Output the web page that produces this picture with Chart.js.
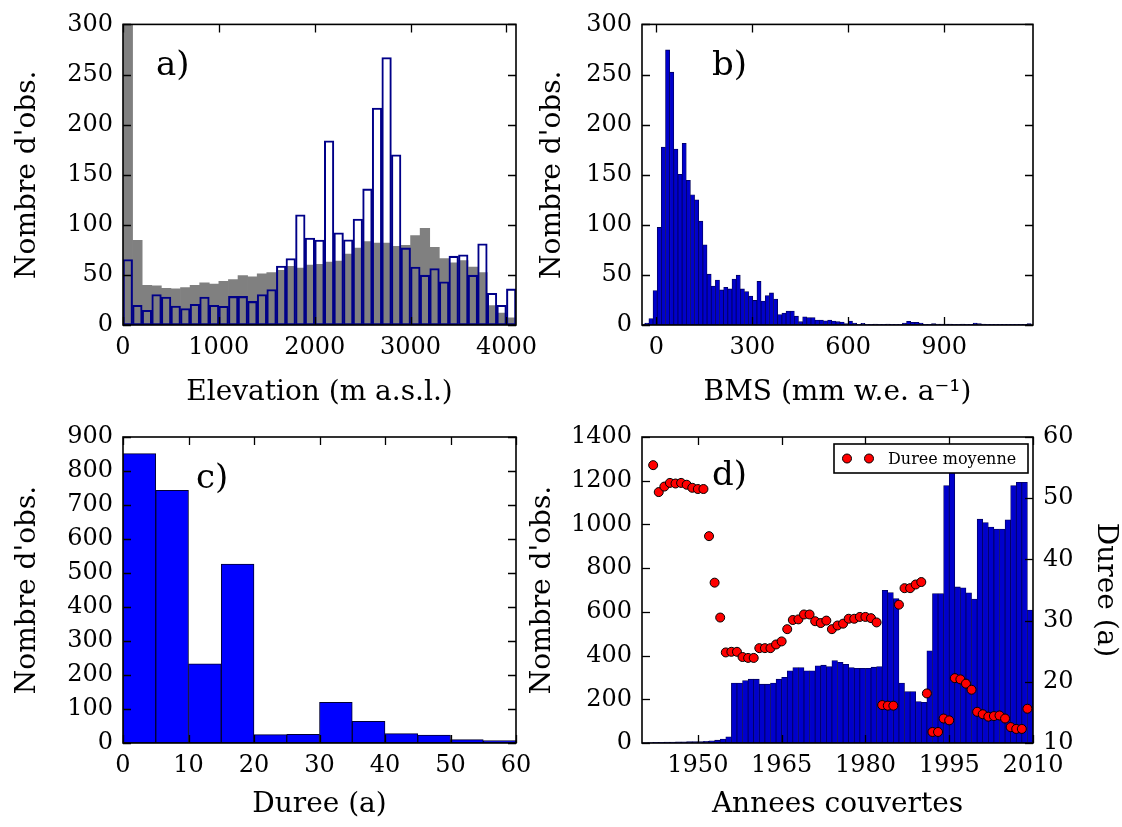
<!DOCTYPE html>
<html>
<head>
<meta charset="utf-8">
<script src="https://cdn.jsdelivr.net/npm/chart.js@4.4.1/dist/chart.umd.min.js"></script>
<style>
  html, body { margin: 0; padding: 0; background: #fff; }
  #wrap { position: relative; width: 1122px; height: 827px; }
  #wrap canvas { position: absolute; left: 0; top: 0; }
</style>
</head>
<body>
<div id="wrap">
  <canvas id="chartA" width="1122" height="827"></canvas>
  <canvas id="chartB" width="1122" height="827"></canvas>
  <canvas id="chartC" width="1122" height="827"></canvas>
  <canvas id="chartD" width="1122" height="827"></canvas>
</div>
<script>
// ---------- a) elevation, 100 m bins ----------
const elevBinCentre = [50, 150, 250, 350, 450, 550, 650, 750, 850, 950,
  1050, 1150, 1250, 1350, 1450, 1550, 1650, 1750, 1850, 1950,
  2050, 2150, 2250, 2350, 2450, 2550, 2650, 2750, 2850, 2950,
  3050, 3150, 3250, 3350, 3450, 3550, 3650, 3750, 3850, 3950, 4050];
const elevAll = [340, 84.5, 39.6, 39, 36.7, 36, 37.3, 39.6, 42.2, 40.9,
  43.5, 45.4, 49.3, 48, 51, 52.3, 54.6, 58.5, 56.9, 59.8,
  60.5, 62.7, 63.7, 70.9, 76.8, 83.3, 81.7, 81.7, 78.4, 79.4,
  89.2, 96.4, 77.5, 66.3, 62, 64.4, 57.8, 52.3, 19.3, 12, 7.2];
const elevSample = [65.4, 19.6, 14.7, 30.4, 27.8, 19, 16.4, 20.6, 27.8, 19.6,
  18.6, 28.5, 28.5, 23.5, 30.4, 35.3, 58.9, 66.4, 110, 86.7,
  84.7, 183.8, 92, 85, 105.7, 135.8, 216.6, 267, 169.8, 76.9,
  57.9, 49.7, 56.3, 43.2, 68.7, 70, 49.7, 81, 31.7, 19.6, 36];
const elevTicks = [0, 1000, 2000, 3000, 4000];
const countTicksAB = [0, 50, 100, 150, 200, 250, 300];

// ---------- b) BMS, 13 mm bins ----------
const bmsBinCentre = [-43, -30, -17, -4, 9, 22, 35, 48, 61, 74,
  87, 100, 113, 126, 139, 152, 165, 178, 191, 204,
  217, 230, 243, 256, 269, 282, 295, 308, 321, 334,
  347, 360, 373, 386, 399, 412, 425, 438, 451, 464,
  477, 490, 503, 516, 529, 542, 555, 568, 581, 594,
  607, 620, 633, 646, 659, 672, 685, 698, 711, 724,
  737, 750, 763, 776, 789, 802, 815, 828, 841, 854,
  867, 880, 893, 906, 919, 932, 945, 958, 971, 984,
  997, 1010, 1023, 1036, 1049, 1062, 1075, 1088, 1101, 1114,
  1127, 1140, 1153, 1166];
const bmsCount = [1, 2, 6.5, 34.3, 97.4, 177.5, 274.5, 252.3, 175.5, 150.3,
  181.4, 144.4, 130, 125, 103.6, 80, 50.7, 38.9, 44.8, 35,
  37.6, 36, 45.8, 49.7, 36, 33.3, 28.8, 24.5, 43.5, 23.9,
  29.4, 32, 25.8, 10.5, 12, 14, 14, 8.8, 3.3, 8.2,
  7.5, 7.5, 4.9, 4.9, 4.2, 4.9, 3.9, 3.3, 2.9, 1.3,
  3.9, 2, 0.7, 1.6, 0.7, 0.6, 1, 0.7, 0.6, 1,
  0.6, 0.6, 0.7, 2, 3.6, 2.6, 2.6, 2, 0.7, 0.7,
  1.3, 1, 1, 1, 1, 0.6, 0.6, 1, 0.7, 0.6,
  2, 1.3, 1, 0.6, 0.6, 0.6, 0.6, 0.6, 0.6, 0.6,
  0.6, 0.6, 0.6, 1.3];
const bmsTicks = [0, 300, 600, 900];

// ---------- c) duration, 5 a bins ----------
const dureeBinCentre = [2.5, 7.5, 12.5, 17.5, 22.5, 27.5, 32.5, 37.5, 42.5, 47.5, 52.5, 57.5];
const dureeCount = [851, 743, 233, 526, 24.5, 25.5, 119.6, 63.7, 27.5, 23.5, 9.8, 6.9];
const dureeTicks = [0, 10, 20, 30, 40, 50, 60];
const countTicksC = [0, 100, 200, 300, 400, 500, 600, 700, 800, 900];

// ---------- d) years covered ----------
const barYears = [1940, 1941, 1942, 1943, 1944, 1945, 1946, 1947, 1948, 1949,
  1950, 1951, 1952, 1953, 1954, 1955, 1956, 1957, 1958, 1959,
  1960, 1961, 1962, 1963, 1964, 1965, 1966, 1967, 1968, 1969,
  1970, 1971, 1972, 1973, 1974, 1975, 1976, 1977, 1978, 1979,
  1980, 1981, 1982, 1983, 1984, 1985, 1986, 1987, 1988, 1989,
  1990, 1991, 1992, 1993, 1994, 1995, 1996, 1997, 1998, 1999,
  2000, 2001, 2002, 2003, 2004, 2005, 2006, 2007, 2008, 2009];
const obsPerYear = [1, 2, 3, 3, 4, 4, 5, 5, 6, 6,
  7, 8, 10, 13, 18, 28, 274, 274, 286, 292,
  292, 269, 269, 274, 292, 301, 330, 345, 345, 330,
  330, 353, 356, 350, 377, 369, 360, 345, 342, 342,
  342, 347, 350, 699, 688, 661, 274, 235, 235, 190,
  186, 422, 684, 684, 1178, 1300, 714, 710, 687, 659,
  1024, 1009, 988, 979, 979, 1021, 1178, 1193, 1193, 608];
const meanYears = [1942, 1943, 1944, 1945, 1946, 1947, 1948, 1949, 1950, 1951,
  1952, 1953, 1954, 1955, 1956, 1957, 1958, 1959, 1960, 1961,
  1962, 1963, 1964, 1965, 1966, 1967, 1968, 1969, 1970, 1971,
  1972, 1973, 1974, 1975, 1976, 1977, 1978, 1979, 1980, 1981,
  1982, 1983, 1984, 1985, 1986, 1987, 1988, 1989, 1990, 1991,
  1992, 1993, 1994, 1995, 1996, 1997, 1998, 1999, 2000, 2001,
  2002, 2003, 2004, 2005, 2006, 2007, 2008, 2009];
const meanDuree = [55.4, 51.0, 51.9, 52.5, 52.4, 52.5, 52.2, 51.7, 51.5, 51.5,
  43.8, 36.2, 30.5, 24.8, 24.9, 24.9, 24.05, 23.9, 23.9, 25.5,
  25.5, 25.5, 26.1, 26.6, 28.6, 30.1, 30.2, 31.0, 31.0, 29.9,
  29.6, 30.0, 28.6, 29.2, 29.5, 30.3, 30.3, 30.6, 30.6, 30.4,
  29.7, 16.2, 16.1, 16.1, 32.6, 35.3, 35.3, 35.9, 36.3, 18.1,
  11.8, 11.8, 14.0, 13.7, 20.6, 20.4, 19.7, 18.7, 15.1, 14.7,
  14.3, 14.4, 14.5, 14.0, 12.6, 12.3, 12.3, 15.6];
const yearTicks = [1950, 1965, 1980, 1995, 2010];
const countTicksD = [0, 200, 400, 600, 800, 1000, 1200, 1400];
const dureeTicksD = [10, 20, 30, 40, 50, 60];

// ---------- shared styling ----------
const FONT = "'DejaVu Serif', serif";
const TICK_FONT = { family: FONT, size: 24 };
const LABEL_FONT = { family: FONT, size: 28 };

// inward ticks on the requested sides, full frame, panel letter, optional legend
const frameTicks = {
  id: 'frameTicks',
  afterDraw(chart, args, opts) {
    const { ctx, chartArea: a } = chart;
    const len = 8;
    ctx.save();
    ctx.strokeStyle = '#000';
    ctx.lineWidth = 1.3;
    for (const id in opts.sides) {
      const s = chart.scales[id];
      const sides = opts.sides[id];
      s.ticks.forEach(t => {
        const p = Math.round(s.getPixelForValue(t.value)) + 0.5;
        ctx.beginPath();
        if (sides.includes('bottom')) { ctx.moveTo(p, a.bottom); ctx.lineTo(p, a.bottom - len); }
        if (sides.includes('top')) { ctx.moveTo(p, a.top); ctx.lineTo(p, a.top + len); }
        if (sides.includes('left')) { ctx.moveTo(a.left, p); ctx.lineTo(a.left + len, p); }
        if (sides.includes('right')) { ctx.moveTo(a.right, p); ctx.lineTo(a.right - len, p); }
        ctx.stroke();
      });
    }
    ctx.lineWidth = 1.6;
    ctx.strokeRect(a.left, a.top, a.right - a.left, a.bottom - a.top);

    ctx.fillStyle = '#000';
    ctx.font = '34px ' + FONT;
    ctx.textBaseline = 'alphabetic';
    ctx.fillText(opts.letter, a.left + opts.lx, a.top + opts.ly);

    if (opts.legend) {
      const lg = opts.legend;
      const w = 194, h = 29;
      const x0 = a.right - w - 5, y0 = a.top + 7;
      ctx.fillStyle = '#fff';
      ctx.fillRect(x0, y0, w, h);
      ctx.lineWidth = 1.6;
      ctx.strokeRect(x0, y0, w, h);
      [13, 35].forEach(dx => {
        ctx.beginPath();
        ctx.arc(x0 + dx, y0 + h / 2, 4.5, 0, Math.PI * 2);
        ctx.fillStyle = lg.color;
        ctx.fill();
        ctx.lineWidth = 1;
        ctx.stroke();
      });
      ctx.fillStyle = '#000';
      ctx.font = '16px ' + FONT;
      ctx.textBaseline = 'middle';
      ctx.fillText(lg.text, x0 + 54, y0 + h / 2 + 1);
    }
    ctx.restore();
  }
};
Chart.register(frameTicks);

function axis(opt) {
  const horiz = opt.position === 'bottom';
  return {
    type: 'linear',
    position: opt.position,
    min: opt.min,
    max: opt.max,
    offset: false,
    grid: { display: false, drawTicks: false },
    border: { display: false },
    ticks: {
      font: TICK_FONT, color: '#000', padding: opt.tickPad,
      autoSkip: false, maxRotation: 0, minRotation: 0,
      callback: v => String(v)
    },
    afterBuildTicks: s => { s.ticks = opt.ticks.map(v => ({ value: v })); },
    afterFit: s => { if (horiz) s.height = opt.size; else s.width = opt.size; },
    title: {
      display: true, text: opt.title, font: LABEL_FONT, color: '#000',
      padding: horiz ? { top: 0, bottom: opt.titlePad } : { top: opt.titlePad, bottom: 0 }
    }
  };
}

function baseOptions(pad, scales, plug) {
  return {
    responsive: false,
    animation: false,
    devicePixelRatio: 1,
    layout: { padding: pad },
    plugins: { legend: { display: false }, tooltip: { enabled: false }, frameTicks: plug },
    scales: scales
  };
}

const histBar = { barPercentage: 1, categoryPercentage: 1, grouped: false, borderSkipped: false };

// ---------- a) ----------
new Chart(document.getElementById('chartA'), {
  type: 'bar',
  data: {
    datasets: [
      Object.assign({
        data: elevBinCentre.map((x, i) => ({ x: x, y: elevSample[i] })),
        backgroundColor: 'rgba(0,0,0,0)', borderColor: '#000088', borderWidth: 1.4, order: 0
      }, histBar),
      Object.assign({
        data: elevBinCentre.map((x, i) => ({ x: x, y: elevAll[i] })),
        backgroundColor: '#808080', borderWidth: 0, order: 1
      }, histBar)
    ]
  },
  options: baseOptions({ left: 0, right: 1122 - 516, top: 19, bottom: 827 - 325 - 88 }, {
    x: axis({ position: 'bottom', min: 0, max: 4100, ticks: elevTicks, size: 88, tickPad: 8, titlePad: 3, title: 'Elevation (m a.s.l.)' }),
    y: axis({ position: 'left', min: 0, max: 300, ticks: countTicksAB, size: 123, tickPad: 10, titlePad: 11, title: "Nombre d'obs." })
  }, { sides: { x: ['bottom', 'top'], y: ['left', 'right'] }, letter: 'a)', lx: 33, ly: 51 })
});

// ---------- b) ----------
new Chart(document.getElementById('chartB'), {
  type: 'bar',
  data: {
    datasets: [Object.assign({
      data: bmsBinCentre.map((x, i) => ({ x: x, y: bmsCount[i] })),
      backgroundColor: '#0000cc', borderColor: '#00005a', borderWidth: 0.8
    }, histBar)]
  },
  options: baseOptions({ left: 520, right: 1122 - 1033, top: 19, bottom: 827 - 325 - 88 }, {
    x: axis({ position: 'bottom', min: -45, max: 1178, ticks: bmsTicks, size: 88, tickPad: 8, titlePad: 3, title: 'BMS (mm w.e. a\u207B\u00B9)' }),
    y: axis({ position: 'left', min: 0, max: 300, ticks: countTicksAB, size: 122, tickPad: 10, titlePad: 16, title: "Nombre d'obs." })
  }, { sides: { x: ['bottom', 'top'], y: ['left', 'right'] }, letter: 'b)', lx: 70, ly: 51 })
});

// ---------- c) ----------
new Chart(document.getElementById('chartC'), {
  type: 'bar',
  data: {
    datasets: [Object.assign({
      data: dureeBinCentre.map((x, i) => ({ x: x, y: dureeCount[i] })),
      backgroundColor: '#0000ff', borderColor: '#000030', borderWidth: 1
    }, histBar)]
  },
  options: baseOptions({ left: 0, right: 1122 - 516, top: 437, bottom: 0 }, {
    x: axis({ position: 'bottom', min: 0, max: 60, ticks: dureeTicks, size: 84, tickPad: 8, titlePad: 5, title: 'Duree (a)' }),
    y: axis({ position: 'left', min: 0, max: 900, ticks: countTicksC, size: 123, tickPad: 10, titlePad: 11, title: "Nombre d'obs." })
  }, { sides: { x: ['bottom', 'top'], y: ['left', 'right'] }, letter: 'c)', lx: 73, ly: 51 })
});

// ---------- d) ----------
new Chart(document.getElementById('chartD'), {
  type: 'bar',
  data: {
    datasets: [
      {
        type: 'scatter',
        data: meanYears.map((x, i) => ({ x: x, y: meanDuree[i] })),
        yAxisID: 'y2', order: 0,
        pointRadius: 4.5, pointBackgroundColor: '#ff0000', pointBorderColor: '#000', pointBorderWidth: 1
      },
      Object.assign({
        data: barYears.map((yr, i) => ({ x: yr + 0.5, y: obsPerYear[i] })),
        yAxisID: 'y', order: 1,
        backgroundColor: '#0000cc', borderColor: '#00005a', borderWidth: 0.8
      }, histBar)
    ]
  },
  options: baseOptions({ left: 520, right: 0, top: 437, bottom: 0 }, {
    x: axis({ position: 'bottom', min: 1940, max: 2010, ticks: yearTicks, size: 84, tickPad: 8, titlePad: 5, title: 'Annees couvertes' }),
    y: axis({ position: 'left', min: 0, max: 1400, ticks: countTicksD, size: 122, tickPad: 10, titlePad: 6, title: "Nombre d'obs." }),
    y2: axis({ position: 'right', min: 10, max: 60, ticks: dureeTicksD, size: 89, tickPad: 10, titlePad: 0, title: 'Duree (a)' })
  }, { sides: { x: ['bottom', 'top'], y: ['left'], y2: ['right'] }, letter: 'd)', lx: 70, ly: 48,
       legend: { text: 'Duree moyenne', color: '#ff0000' } })
});
</script>
</body>
</html>
